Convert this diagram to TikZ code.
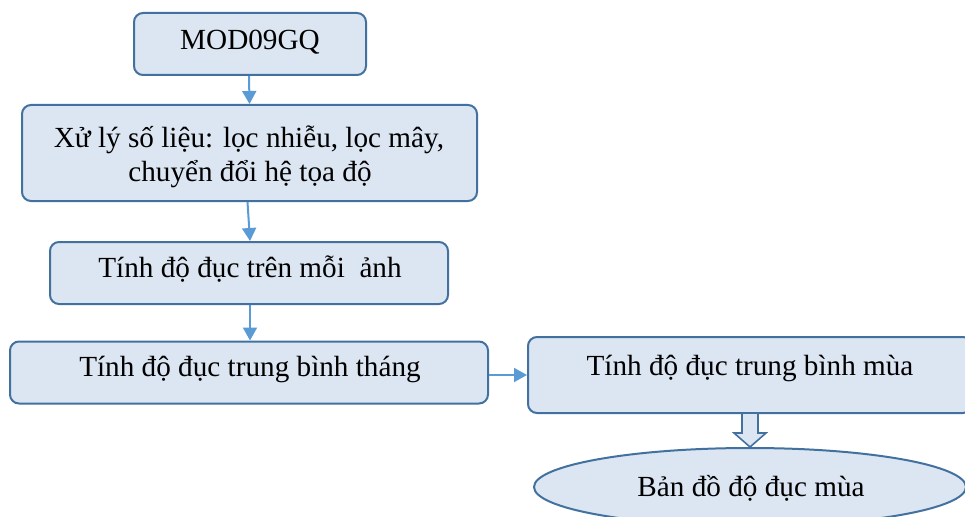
\documentclass[tikz,border=0pt]{standalone}
\usepackage{fontspec}
\setmainfont{Liberation Serif}
\usetikzlibrary{arrows.meta,shapes.geometric,calc}
\definecolor{boxfill}{RGB}{220,230,242}
\definecolor{boxline}{RGB}{66,113,160}
\definecolor{arrowblue}{RGB}{91,155,213}
\tikzset{
  box/.style={draw=boxline,fill=boxfill,line width=2pt,rounded corners=9pt,inner sep=0pt},
  arr/.style={draw=arrowblue,line width=2pt,-{Triangle[length=13pt,width=14pt]}},
  txt/.style={font=\fontsize{29.2}{35}\selectfont,anchor=base,inner sep=0pt},
  hollow/.style={draw=boxline,fill=boxfill,line width=1.6pt,line join=miter},
  ell/.style={ellipse,draw=boxline,fill=boxfill,line width=2pt,inner sep=0pt}
}
\begin{document}
\begin{tikzpicture}[x=1pt,y=-1pt]
\useasboundingbox (0,0) rectangle (965,516);
\clip (0,0) rectangle (965,516);
% boxes
\node[box,minimum width=232pt,minimum height=62pt] (b1) at (250,44) {};
\node[box,minimum width=455pt,minimum height=96pt] (b2) at (249.5,153) {};
\node[box,minimum width=398pt,minimum height=62pt] (b3) at (249,273) {};
\node[box,minimum width=478pt,minimum height=62pt] (b4) at (249,372.5) {};
\node[box,minimum width=444pt,minimum height=76pt] (b5) at (750,375) {};
\node[ell,minimum width=432pt,minimum height=78pt] (e1) at (750,487) {};
% texts
\node[txt] (t1) at (250,50) {MOD09GQ};
\node[txt] (t2a) at (249,147) {Xử lý số liệu: lọc nhiễu, lọc mây,};
\node[txt] (t2b) at (250,181) {chuyển đổi hệ tọa độ};
\node[txt] (t3) at (250,277) {Tính độ đục trên mỗi\ \ ảnh};
\node[txt] (t4) at (250,376) {Tính độ đục trung bình tháng};
\node[txt] (t5) at (750,375) {Tính độ đục trung bình mùa};
\node[txt] (t6) at (751,496) {Bản đồ độ đục mùa};
% connectors
\draw[arr] ([xshift=-1pt]b1.south) -- ([xshift=-0.5pt]b1.south |- b2.north);
\draw[arr] ([xshift=-2pt]b2.south) -- ([xshift=1pt]b3.north);
\draw[arr] ([xshift=1pt]b3.south) -- ([xshift=1pt]b3.south |- b4.north);
\draw[arr] (b4.east |- b5.west) -- (b5.west);
\coordinate (hs) at (b5.south);
\coordinate (ht) at (b5.south |- e1.north);
\draw[hollow] ($(hs)+(-8,0)$) -- ($(ht)+(-8,-14)$) -- ($(ht)+(-16,-14)$) -- (ht)
  -- ($(ht)+(16,-14)$) -- ($(ht)+(8,-14)$) -- ($(hs)+(8,0)$);
\end{tikzpicture}
\end{document}
